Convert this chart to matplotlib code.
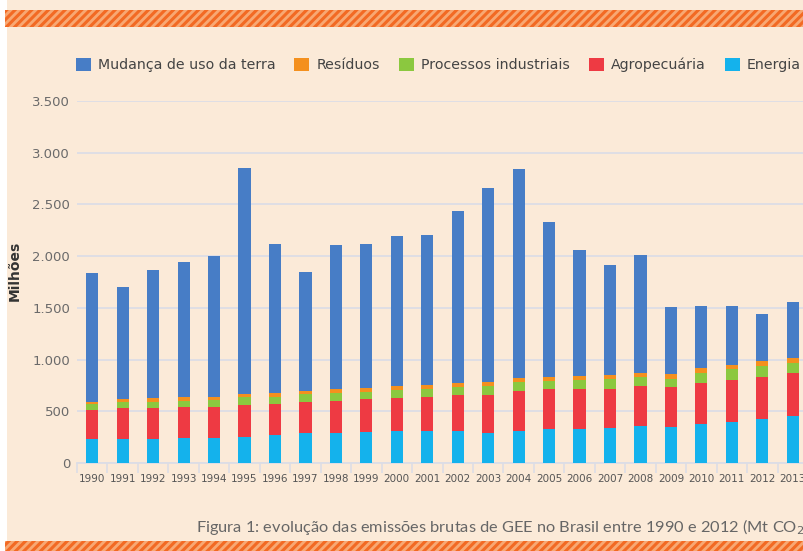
import matplotlib
matplotlib.use('Agg')
import matplotlib.pyplot as plt
import numpy as np
from matplotlib.patches import Rectangle
from matplotlib.ticker import FuncFormatter, FixedLocator

# emissoes brutas por setor (Mt CO2e)
anos = list(range(1990, 2014))
energia = [229, 235, 235, 242, 242, 255, 274, 287, 293, 297, 309, 309,
           306, 293, 309, 326, 326, 338, 358, 345, 377, 394, 425, 457]
agropecuaria = [283, 294, 297, 296, 303, 303, 296, 300, 306, 319, 319, 332,
                349, 368, 384, 386, 389, 377, 387, 387, 400, 409, 403, 416]
processos = [58, 58, 61, 65, 64, 77, 71, 77, 78, 74, 78, 78,
             77, 84, 87, 81, 88, 94, 83, 83, 96, 103, 107, 97]
residuos = [23, 29, 35, 38, 32, 29, 33, 35, 39, 32, 42, 38,
            38, 41, 42, 39, 38, 39, 42, 42, 46, 45, 48, 45]
mudanca_uso = [1241, 1083, 1238, 1299, 1364, 2185, 1440, 1145, 1392, 1395, 1447, 1444,
               1667, 1876, 2018, 1501, 1218, 1063, 1144, 651, 602, 570, 461, 545]

fundo = '#FBEAD8'
faixa = '#F26A24'

fig = plt.figure(figsize=(8.04, 5.51), dpi=100)
fig.patch.set_facecolor('white')

# painel e faixas listradas
fig.add_artist(Rectangle((7/804, 0), 1, 1, transform=fig.transFigure,
                         facecolor=fundo, edgecolor='none', zorder=-10))
plt.rcParams['hatch.linewidth'] = 2.2
for y0, h in [(524/551, 17/551), (0, 10/551)]:
    fig.add_artist(Rectangle((5/804, y0), 1, h, transform=fig.transFigure,
                             facecolor='#F8A873', edgecolor=faixa, hatch='////',
                             linewidth=0, zorder=-5))

ax = fig.add_axes([77/804, 88/551, 731/804, 362/551])
ax.set_facecolor('none')

x = np.arange(len(anos))
w = 0.4
series = [
    (energia, 'Energia', '#14B2EC'),
    (agropecuaria, 'Agropecuária', '#EE3A43'),
    (processos, 'Processos industriais', '#8BC83F'),
    (residuos, 'Resíduos', '#F4901E'),
    (mudanca_uso, 'Mudança de uso da terra', '#477DC6'),
]
base = np.zeros(len(anos))
handles = {}
for vals, nome, cor in series:
    b = ax.bar(x, vals, w, bottom=base, color=cor, label=nome, zorder=3)
    handles[nome] = b
    base += np.array(vals)

ax.set_xlim(-0.5, len(anos) - 0.5)
ax.set_ylim(0, 3500)
ax.set_yticks(np.arange(0, 3501, 500))
ax.yaxis.set_major_formatter(FuncFormatter(lambda v, p: f'{int(v):,}'.replace(',', '.')))
ax.grid(axis='y', color='#DCDDE6', linewidth=1.3, zorder=0)
ax.tick_params(axis='y', length=0, pad=5, labelsize=9.5, labelcolor='#6A6A6A')

ax.set_xticks(x)
ax.set_xticklabels([str(a) for a in anos], family=['Liberation Sans Narrow', 'DejaVu Sans'],
                   fontsize=7.5, color='#555555')
ax.tick_params(axis='x', which='major', length=0, pad=8)
ax.xaxis.set_minor_locator(FixedLocator(np.arange(-0.5, len(anos), 1)))
ax.tick_params(axis='x', which='minor', length=7, width=1.2, color='#DCDDE6')

for s in ['top', 'right', 'left']:
    ax.spines[s].set_visible(False)
ax.spines['bottom'].set_color('#DCDDE6')
ax.spines['bottom'].set_linewidth(1.3)

ax.set_ylabel('Milhões', fontsize=10, fontweight='bold', color='#333333')
ax.yaxis.set_label_coords(-55/731, 0.53)

ordem = ['Mudança de uso da terra', 'Resíduos', 'Processos industriais', 'Agropecuária', 'Energia']
fig.legend([handles[n] for n in ordem], ordem, loc='center left',
           bbox_to_anchor=(70/804, 1 - 65/551), ncol=5, frameon=False,
           fontsize=10.2, labelcolor='#444444', handlelength=1.05, handleheight=1.05,
           handletextpad=0.5, columnspacing=1.35, borderaxespad=0)

fig.text(196/804, 1 - 527/551,
         'Figura 1: evolução das emissões brutas de GEE no Brasil entre 1990 e 2012 (Mt CO$_2$e)',
         fontsize=11.8, color='#666666', va='center', family=['Lato', 'DejaVu Sans'])

fig.savefig('out.png', dpi=100)
